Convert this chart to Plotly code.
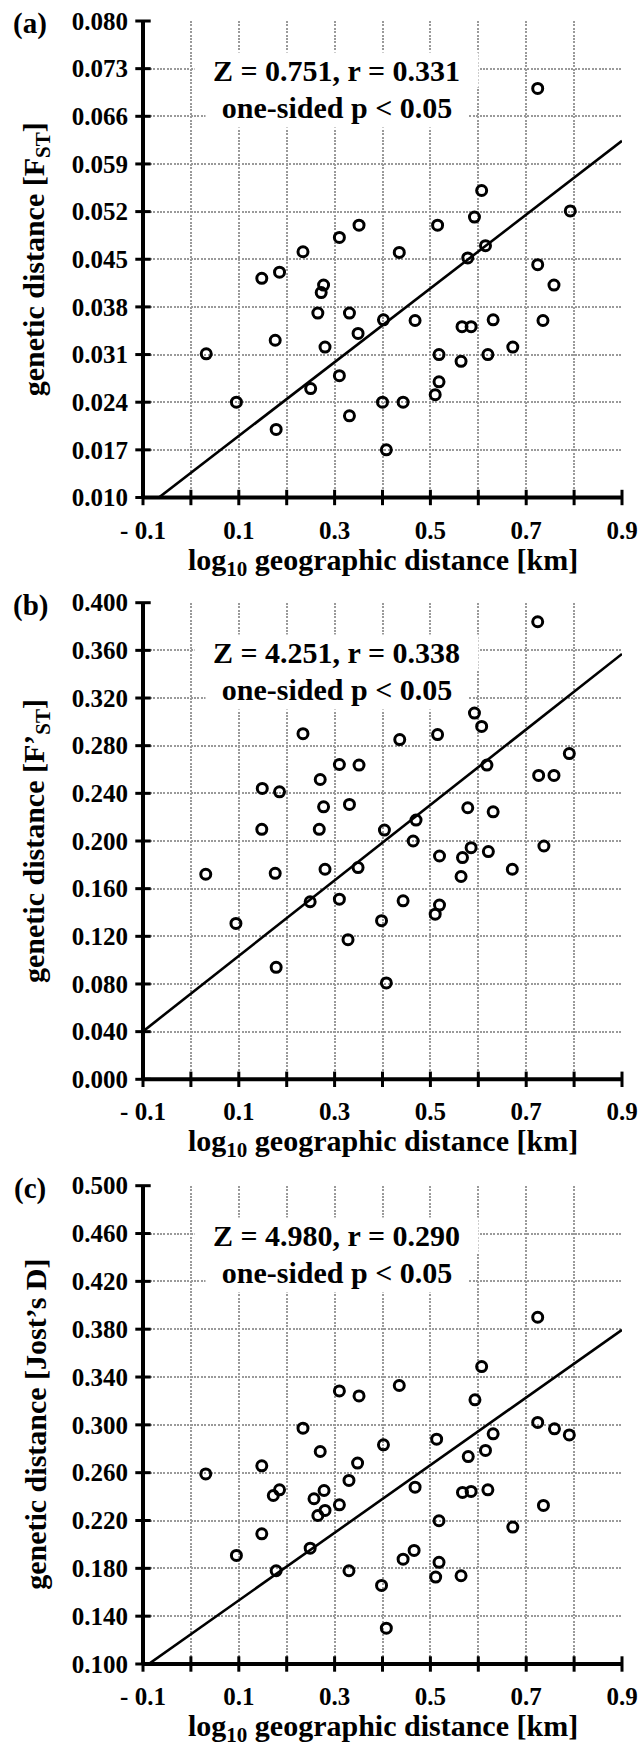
import plotly.graph_objects as go

W, H = 641, 1747
FONT = "Liberation Serif"

# ---------------- data ----------------
x_tickvals = [-0.1, 0.0, 0.1, 0.2, 0.3, 0.4, 0.5, 0.6, 0.7, 0.8, 0.9]
x_ticktext = ["- 0.1", " ", "0.1", " ", "0.3", " ", "0.5", " ", "0.7", " ", "0.9"]

# panel (a) genetic distance FST
a_x = [0.724, 0.607, 0.792, 0.592, 0.515, 0.351, 0.310, 0.615, 0.234, 0.435,
       0.578, 0.724, 0.185, 0.148, 0.277, 0.272, 0.758, 0.265, 0.331, 0.402,
       0.468, 0.631, 0.735, 0.566, 0.585, 0.349, 0.176, 0.280, 0.672, 0.032,
       0.518, 0.620, 0.564, 0.310, 0.518, 0.250, 0.510, 0.095, 0.400, 0.443,
       0.331, 0.178, 0.408]
a_y = [0.0701, 0.0551, 0.0521, 0.0512, 0.0500, 0.0500, 0.0482, 0.0470, 0.0461, 0.0460,
       0.0452, 0.0442, 0.0431, 0.0422, 0.0412, 0.0401, 0.0412, 0.0371, 0.0371, 0.0361,
       0.0360, 0.0361, 0.0360, 0.0351, 0.0351, 0.0341, 0.0331, 0.0321, 0.0321, 0.0311,
       0.0310, 0.0310, 0.0300, 0.0279, 0.0270, 0.0260, 0.0251, 0.0240, 0.0240, 0.0240,
       0.0220, 0.0200, 0.0170]
a_ticks = [0.010, 0.017, 0.024, 0.031, 0.038, 0.045, 0.052, 0.059, 0.066, 0.073, 0.080]
a_fit = (0.0542, 0.01362)   # slope, intercept

# panel (b) genetic distance F'ST
b_x = [0.724, 0.592, 0.607, 0.234, 0.515, 0.436, 0.790, 0.310, 0.351, 0.618,
       0.270, 0.726, 0.758, 0.149, 0.185, 0.277, 0.331, 0.578, 0.631, 0.470,
       0.148, 0.268, 0.404, 0.464, 0.737, 0.585, 0.621, 0.519, 0.567, 0.031,
       0.176, 0.280, 0.349, 0.564, 0.671, 0.310, 0.249, 0.443, 0.519, 0.510,
       0.398, 0.094, 0.328, 0.178, 0.408]
b_y = [0.384, 0.3074, 0.2962, 0.2901, 0.2893, 0.2851, 0.2734, 0.2642, 0.2637, 0.2637,
       0.2516, 0.2550, 0.2550, 0.2441, 0.2413, 0.2287, 0.2307, 0.2279, 0.2245, 0.2176,
       0.2098, 0.2098, 0.2092, 0.2000, 0.1958, 0.1944, 0.1911, 0.1874, 0.1861, 0.1721,
       0.1729, 0.1763, 0.1777, 0.1702, 0.1763, 0.1512, 0.1490, 0.1498, 0.1462, 0.1386,
       0.1331, 0.1308, 0.1172, 0.0940, 0.0809]
b_ticks = [0.000, 0.040, 0.080, 0.120, 0.160, 0.200, 0.240, 0.280, 0.320, 0.360, 0.400]
b_fit = (0.3168, 0.0719)

# panel (c) genetic distance Jost's D
c_x = [0.724, 0.607, 0.310, 0.351, 0.435, 0.593, 0.234, 0.724, 0.759, 0.790,
       0.631, 0.513, 0.402, 0.270, 0.615, 0.579, 0.348, 0.148, 0.031, 0.330,
       0.468, 0.185, 0.278, 0.567, 0.585, 0.620, 0.172, 0.257, 0.310, 0.736,
       0.280, 0.265, 0.518, 0.672, 0.148, 0.249, 0.095, 0.466, 0.443, 0.518,
       0.178, 0.330, 0.511, 0.564, 0.398, 0.408]
c_y = [0.390, 0.3487, 0.3284, 0.3242, 0.3329, 0.3209, 0.2972, 0.302, 0.2967, 0.2916,
       0.2925, 0.288, 0.2833, 0.2777, 0.2786, 0.2735, 0.268, 0.2657, 0.259, 0.2535,
       0.2479, 0.2457, 0.2451, 0.2435, 0.2443, 0.2457, 0.2409, 0.2382, 0.2331, 0.2326,
       0.2284, 0.2242, 0.2198, 0.2145, 0.2089, 0.1969, 0.1908, 0.195, 0.1877, 0.185,
       0.178, 0.178, 0.1727, 0.1738, 0.1657, 0.130]
c_ticks = [0.100, 0.140, 0.180, 0.220, 0.260, 0.300, 0.340, 0.380, 0.420, 0.460, 0.500]
c_fit = (0.2828, 0.1249)

labels = ["(a)", "(b)", "(c)"]
y_titles = ["genetic distance [F<sub>ST</sub>]",
            "genetic distance [F\u2019<sub>ST</sub>]",
            "genetic distance [Jost\u2019s D]"]
stats_line1 = ["Z = 0.751, r = 0.331", "Z = 4.251, r = 0.338", "Z = 4.980, r = 0.290"]
stats_line2 = ["one-sided p < 0.05"] * 3
x_title = "log<sub>10</sub> geographic distance [km]"

panels = [(a_x, a_y, a_ticks, a_fit), (b_x, b_y, b_ticks, b_fit), (c_x, c_y, c_ticks, c_fit)]

# ---------------- layout geometry (pixels) ----------------
PX_L, PX_R = 143, 622
PX_TB = [(21, 497.5), (602.7, 1079.3), (1185.7, 1664)]
TICK_LEN = 11


def fx(px):
    return px / W


def fy(px):
    return 1 - px / H


fig = go.Figure()
layout = dict(template="none", width=W, height=H,
              margin=dict(l=0, r=0, t=0, b=0, pad=0),
              paper_bgcolor="white", plot_bgcolor="white", showlegend=False,
              annotations=[], shapes=[])

tickfont = dict(family=FONT, size=25, color="black", weight="bold")
GRID = "#9a9a9a"

for i, (xs, ys, yt, fit) in enumerate(panels):
    n = i + 1
    sfx = "" if n == 1 else str(n)
    top, bot = PX_TB[i]
    xr = [x_tickvals[0], x_tickvals[-1]]
    yr = [yt[0], yt[-1]]
    xa, ya = "x" + sfx, "y" + sfx

    slope, icpt = fit
    fig.add_trace(go.Scatter(x=xr, y=[icpt + slope * v for v in xr], mode="lines",
                             line=dict(color="black", width=2.6),
                             xaxis=xa, yaxis=ya, hoverinfo="skip"))
    fig.add_trace(go.Scatter(x=xs, y=ys, mode="markers",
                             marker=dict(symbol="circle-open", size=10, color="black",
                                         line=dict(color="black", width=3)),
                             xaxis=xa, yaxis=ya))
    # tick marks that cross the axis lines, placed at the axis tick values
    fig.add_trace(go.Scatter(x=x_tickvals, y=[yr[0]] * len(x_tickvals), mode="markers",
                             marker=dict(symbol="line-ns-open", size=TICK_LEN, color="black",
                                         line=dict(color="black", width=3)),
                             cliponaxis=False, xaxis=xa, yaxis=ya, hoverinfo="skip"))
    fig.add_trace(go.Scatter(x=[xr[0]] * len(yt), y=yt, mode="markers",
                             marker=dict(symbol="line-ew-open", size=TICK_LEN, color="black",
                                         line=dict(color="black", width=3)),
                             cliponaxis=False, xaxis=xa, yaxis=ya, hoverinfo="skip"))

    common = dict(showline=False, automargin=False, ticks="",
                  showgrid=True, gridcolor=GRID, gridwidth=1.6, griddash="2px,1.4px",
                  zeroline=False, tickfont=tickfont, fixedrange=True, tickmode="array")
    layout["xaxis" + sfx] = dict(common, domain=[fx(PX_L), fx(PX_R)], range=xr,
                                 anchor=ya, tickvals=x_tickvals, ticktext=x_ticktext,
                                 ticklabelstandoff=15)
    layout["yaxis" + sfx] = dict(common, domain=[fy(bot), fy(top)], range=yr,
                                 anchor=xa, tickvals=yt, ticktext=["%.3f" % v for v in yt],
                                 ticklabelstandoff=14)

    xd, yd = xa + " domain", ya + " domain"
    axis_line = dict(color="black", width=4)
    layout["shapes"].append(dict(type="line", xref=xd, yref=yd, x0=0, x1=0, y0=0, y1=1,
                                 line=axis_line, layer="above"))
    layout["shapes"].append(dict(type="line", xref=xd, yref=yd, x0=0, x1=1, y0=0, y1=0,
                                 line=axis_line, layer="above"))

    ann = layout["annotations"]
    ann.append(dict(text="<b>" + x_title + "</b>", xref="paper", yref="paper",
                    x=fx((PX_L + PX_R) / 2), y=fy(bot + 64), xanchor="center",
                    yanchor="middle", showarrow=False,
                    font=dict(family=FONT, size=30, color="black")))
    ann.append(dict(text="<b>" + y_titles[i] + "</b>", xref="paper", yref="paper",
                    x=fx(36), y=fy((top + bot) / 2), xanchor="center",
                    yanchor="middle", textangle=-90, showarrow=False,
                    font=dict(family=FONT, size=30, color="black")))
    ann.append(dict(text="<b>" + labels[i] + "</b>", xref="paper", yref="paper",
                    x=fx(30), y=fy(top + 2.5), xanchor="center", yanchor="middle",
                    showarrow=False, font=dict(family=FONT, size=29, color="black")))
    ann.append(dict(text="<b>" + stats_line1[i] + "</b>", xref="paper", yref="paper",
                    x=fx(336.5), y=fy(top + 49), xanchor="center", yanchor="middle",
                    width=283, height=34, bgcolor="white", borderpad=0,
                    showarrow=False, font=dict(family=FONT, size=30, color="black")))
    ann.append(dict(text="<b>" + stats_line2[i] + "</b>", xref="paper", yref="paper",
                    x=fx(336.5), y=fy(top + 86), xanchor="center", yanchor="middle",
                    width=262, height=40, bgcolor="white", borderpad=0,
                    showarrow=False, font=dict(family=FONT, size=30, color="black")))

fig.update_layout(**layout)
fig.write_html("out.html")
